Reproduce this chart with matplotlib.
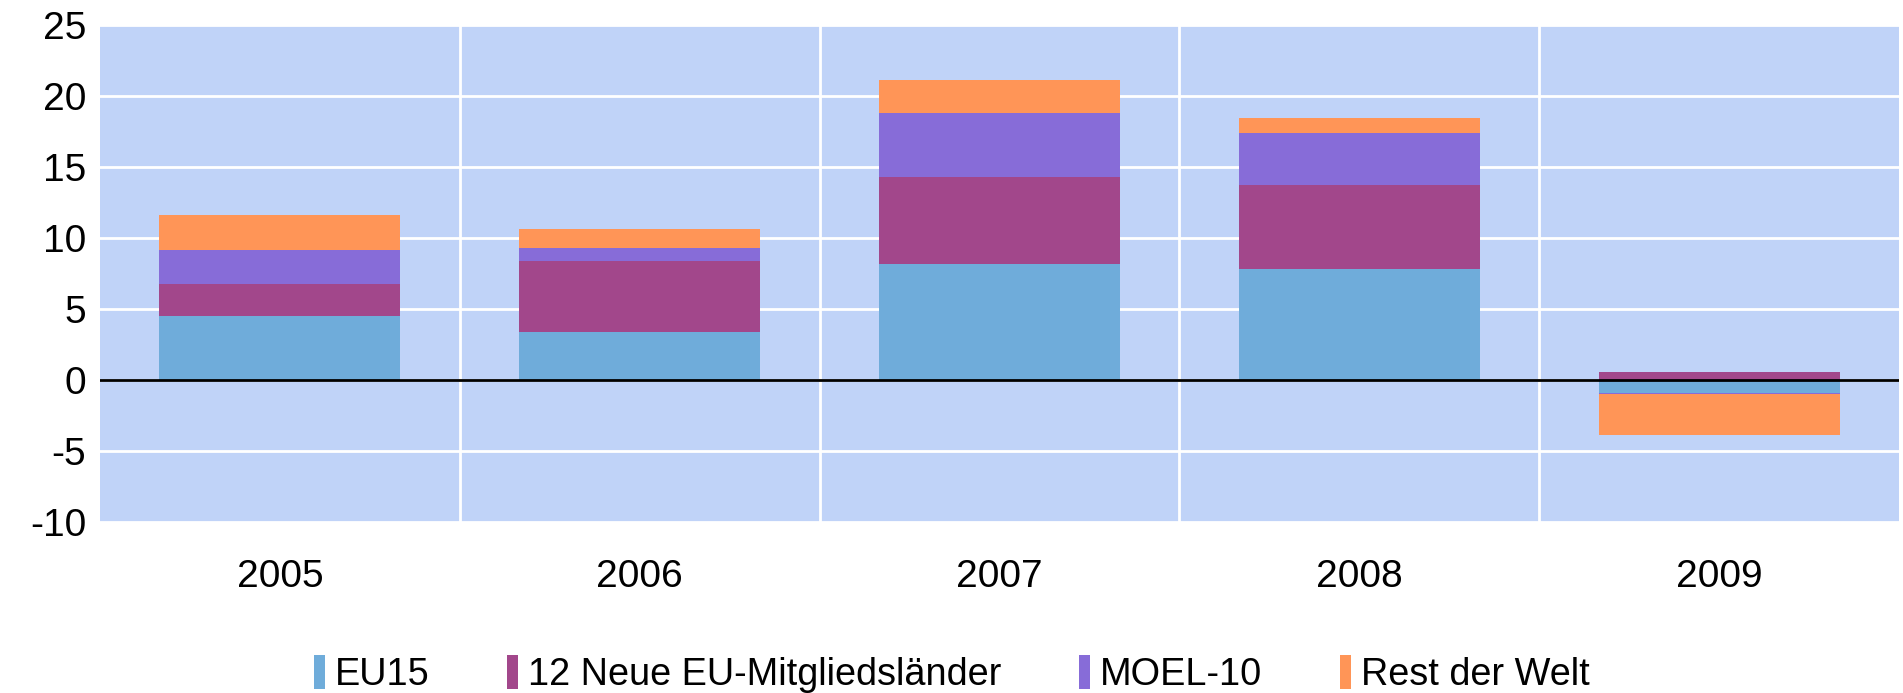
import numpy as np
import matplotlib.pyplot as plt
from matplotlib.patches import Patch

plt.rcParams['font.family'] = ['Liberation Sans', 'DejaVu Sans']
plt.rcParams['axes.unicode_minus'] = False

years = ['2005', '2006', '2007', '2008', '2009']
series = ['EU15', '12 Neue EU-Mitgliedsländer', 'MOEL-10', 'Rest der Welt']
eu15 = [4.47, 3.34, 8.12, 7.81, -0.92]
neue = [2.25, 4.99, 6.12, 5.90, 0.58]
moel = [2.45, 0.92, 4.57, 3.64, -0.06]
rest = [2.40, 1.33, 2.32, 1.07, -2.87]
colors = ['#6FACDA', '#A2478B', '#876CD8', '#FF9557']

fig = plt.figure(figsize=(19.03, 6.93), dpi=100)
ax = fig.add_axes([0.0525, 0.2468, 0.9454, 0.7178])
ax.set_facecolor('#C0D3F8')

x = np.arange(len(years))
pos = np.zeros(len(years))
neg = np.zeros(len(years))
for vals, c in zip([eu15, neue, moel, rest], colors):
    v = np.array(vals)
    base = np.where(v >= 0, pos, neg)
    ax.bar(x, v, 0.67, bottom=base, color=c, zorder=3)
    pos = pos + np.where(v >= 0, v, 0)
    neg = neg + np.where(v < 0, v, 0)

ax.set_xlim(-0.5, 4.5)
ax.set_ylim(-10, 25)
ax.set_yticks(range(-10, 26, 5))
ax.set_xticks(x)
ax.set_xticklabels(years)
ax.set_xticks(np.arange(0.5, 4.5, 1), minor=True)
ax.grid(True, axis='y', color='white', lw=2, zorder=1)
ax.grid(True, axis='x', which='minor', color='white', lw=2, zorder=1)
ax.axhline(0, color='black', lw=2, zorder=4)
for s in ax.spines.values():
    s.set_visible(False)
ax.tick_params(axis='both', which='both', length=0, labelsize=28)
ax.tick_params(axis='y', pad=10)
ax.tick_params(axis='x', pad=27)

handles = [Patch(facecolor=c, edgecolor='none') for c in colors]
fig.legend(handles, series, loc='center', bbox_to_anchor=(0.5, 0.027), ncol=4,
           frameon=False, fontsize=27.3, handlelength=0.3, handleheight=1.0,
           handletextpad=0.25, columnspacing=2.05, borderpad=0)

fig.savefig('out.png', dpi=100)
